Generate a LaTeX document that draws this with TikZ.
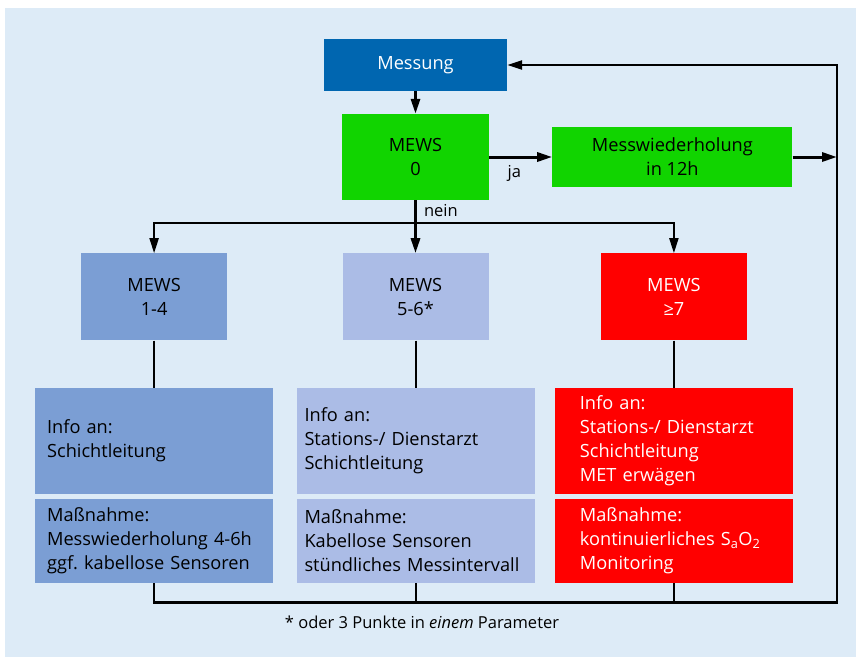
\documentclass[tikz,border=0pt]{standalone}
\usepackage{fontspec}
\setmainfont{Open Sans}
\usetikzlibrary{arrows.meta,positioning,calc}
\definecolor{bgblue}   {RGB}{221,235,247}
\definecolor{messblue} {RGB}{  0,102,176}
\definecolor{okgreen}  {RGB}{ 17,212,  0}
\definecolor{lowblue}  {RGB}{123,158,212}
\definecolor{midblue}  {RGB}{171,188,230}
\definecolor{alarmred} {RGB}{255,  0,  0}
\newcommand{\boxfont}{\fontsize{18.2}{24}\selectfont}
\tikzset{
  blk/.style  ={rectangle,inner sep=0pt,align=center,font=\boxfont},
  mews/.style ={blk,minimum width=146pt,minimum height=87pt},
  txt/.style  ={rectangle,inner ysep=0pt,align=left,font=\boxfont},
  info/.style ={txt,minimum height=105.7pt},
  act/.style  ={txt,minimum height=84pt},
  sig/.style  ={-{Triangle[length=15pt,width=9pt]},line width=2pt},
  sigk/.style ={sig,line width=3pt},
  ln/.style   ={line width=2pt},
  lbl/.style  ={font=\fontsize{16.5}{20}\selectfont,inner sep=2pt},
}
\begin{document}
\begin{tikzpicture}
  \useasboundingbox (0,0) rectangle (856pt,-657pt);
  \fill[bgblue] (5pt,-8pt) rectangle (856pt,-657pt);
  % top row
  \node[blk,fill=messblue,text=white,minimum width=183pt,minimum height=52pt]
                                  (mess)  at (415.5pt,-65pt) {Messung};
  \node[blk,fill=okgreen,minimum width=147pt,minimum height=86pt,below=22.6pt of mess]
                                  (mews0) {MEWS\\0};
  \node[blk,fill=okgreen,minimum width=240pt,minimum height=60pt,right=63pt of mews0]
                                  (rep)   {Messwiederholung\\in 12h};
  % MEWS classes
  \node[mews,fill=midblue,below=53pt of mews0]   (mewsmid) {MEWS\\5-6*};
  \node[mews,fill=lowblue,left=115pt of mewsmid] (mewslow) {MEWS\\1-4};
  \node[mews,fill=alarmred,text=white,right=112pt of mewsmid]
                                  (mewshigh) {MEWS\\≥7};
  % info and measures
  \node[info,fill=lowblue,inner xsep=12pt,text width=214pt,below=47pt of mewslow]
                                  (infolow) {Info an:\\Schichtleitung};
  \node[info,fill=midblue,inner xsep=8pt,text width=222pt,below=47pt of mewsmid]
                                  (infomid) {Info an:\\Stations-/ Dienstarzt\\Schichtleitung};
  \node[info,fill=alarmred,text=white,inner xsep=25pt,text width=188pt,below=47pt of mewshigh]
                                  (infohigh) {Info an:\\Stations-/ Dienstarzt\\Schichtleitung\\MET erwägen};
  \node[act,fill=lowblue,inner xsep=12pt,text width=214pt,below=5pt of infolow]
                                  (actlow) {Maßnahme:\\Messwiederholung 4-6h\\ggf.\ kabellose Sensoren};
  \node[act,fill=midblue,inner xsep=8pt,text width=222pt,below=5pt of infomid]
                                  (actmid) {Maßnahme:\\Kabellose Sensoren\\stündliches Messintervall};
  \node[act,fill=alarmred,text=white,inner xsep=25pt,text width=188pt,below=5pt of infohigh]
                                  (acthigh) {Maßnahme:\\kontinuierliches S\textsubscript{a}O\textsubscript{2}\\Monitoring};
  \node[lbl] (note) at (422pt,-622pt) {* oder 3 Punkte in \textit{einem} Parameter};
  % connectors
  \coordinate (split)  at ($(mews0.south)!0.43!(mewsmid.north)$);
  \coordinate (loopbr) at (837pt,-602.5pt);
  \draw[sigk](mess)  -- (mews0);
  \draw[sigk](mews0) -- node[lbl,below=5pt,pos=0.4]{ja} (rep);
  \draw[sigk](rep.east) -- (rep.east -| loopbr);
  \draw[sigk](mews0) -- node[lbl,right=5pt,pos=0.2]{nein} (mewsmid);
  \draw[sig] (split) -| (mewslow.north);
  \draw[sig] (split) -| (mewshigh.north);
  \draw[ln]  (mewslow)  -- (infolow);
  \draw[ln]  (mewsmid)  -- (infomid);
  \draw[ln]  (mewshigh) -- (infohigh);
  \draw[ln]  (actmid.south)  -- (actmid.south |- loopbr);
  \draw[ln]  (acthigh.south) -- (acthigh.south |- loopbr);
  \draw[sig,line width=2.2pt] (actlow.south) |- (loopbr) |- (mess.east);
\end{tikzpicture}
\end{document}
